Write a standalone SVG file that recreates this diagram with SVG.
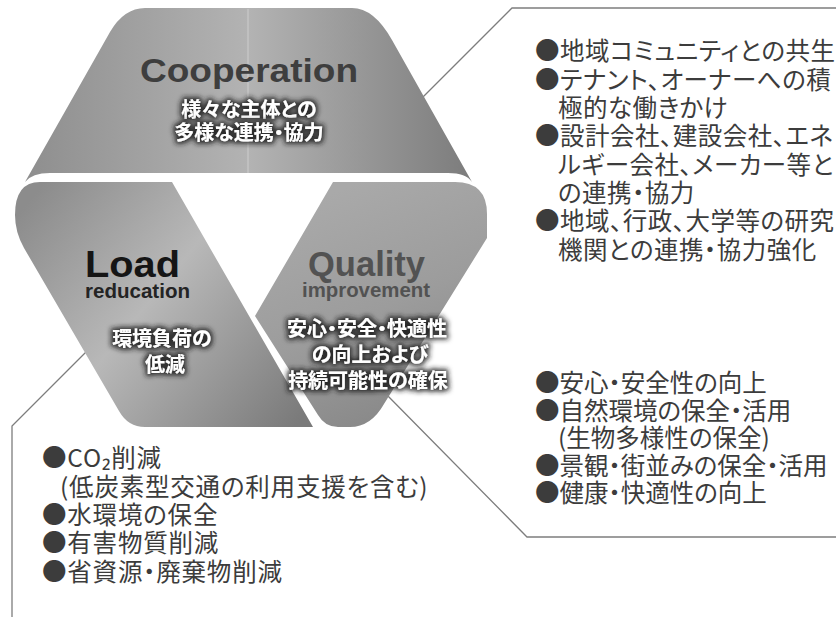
<svg xmlns="http://www.w3.org/2000/svg" width="836" height="617" viewBox="0 0 836 617">
<defs>
<style>
.lbl{font-family:"Liberation Sans",Arial,sans-serif;font-weight:bold;text-anchor:middle}
.glow{font-family:"Noto Sans CJK JP","Noto Sans",sans-serif;font-weight:bold;fill:#fff;text-anchor:middle;font-size:20px;font-feature-settings:"palt";filter:url(#halo)}
.list{font-family:"Noto Sans CJK JP","Noto Sans",sans-serif;font-size:24.5px;fill:#3c3c3c;font-feature-settings:"palt"}
.call{fill:none;stroke:#7d7d7d;stroke-width:1.3}
</style>
<linearGradient id="gTop" x1="25" y1="0" x2="472" y2="0" gradientUnits="userSpaceOnUse">
<stop offset="0" stop-color="#8e8e8e"/><stop offset="0.5" stop-color="#b3b3b3"/><stop offset="1" stop-color="#7c7c7c"/>
</linearGradient>
<linearGradient id="gLoad" x1="30" y1="200" x2="300" y2="420" gradientUnits="userSpaceOnUse">
<stop offset="0" stop-color="#8c8c8c"/><stop offset="0.45" stop-color="#b8b8b8"/><stop offset="1" stop-color="#7a7a7a"/>
</linearGradient>
<linearGradient id="gQual" x1="340" y1="190" x2="440" y2="420" gradientUnits="userSpaceOnUse">
<stop offset="0" stop-color="#a9a9a9"/><stop offset="0.5" stop-color="#9c9c9c"/><stop offset="1" stop-color="#858585"/>
</linearGradient>
<filter id="halo" x="-20%" y="-40%" width="140%" height="180%">
<feMorphology in="SourceAlpha" operator="dilate" radius="1.5" result="d"/>
<feGaussianBlur in="d" stdDeviation="2.5" result="b"/>
<feFlood flood-color="#1e1e1e" flood-opacity="0.9"/>
<feComposite in2="b" operator="in" result="s"/>
<feMerge><feMergeNode in="s"/><feMergeNode in="SourceGraphic"/></feMerge>
</filter>
</defs>
<rect width="836" height="617" fill="#ffffff"/>

<g id="connectors">
<polyline class="call" points="420,100 512,8 836,8"/>
<polyline class="call" points="385,393 527,537 836,537"/>
<polyline class="call" points="90,348 12,426 12,617"/>
</g>

<g id="node-cooperation">
<path d="M25,182 Q32,173 50,173 L448,173 Q466,173 472,182 L392,40 Q374,8 352,8 L145,8 Q124,8 110,32 Z" fill="url(#gTop)"/>
<line x1="248" y1="9" x2="248" y2="173" stroke="#ffffff" stroke-opacity="0.35" stroke-width="1"/>
<text class="lbl" x="249" y="82" font-size="33.5" fill="#3e3e3e" textLength="218" lengthAdjust="spacingAndGlyphs">Cooperation</text>
<text class="glow" x="249" y="117">様々な主体との</text>
<text class="glow" x="249" y="140">多様な連携・協力</text>
</g>

<g id="node-load">
<path d="M40,182 L172,182 L313,427 L145,427 Q128,427 119,411 L24,248 Q15,232 15,215 Q15,182 40,182 Z" fill="url(#gLoad)"/>
<text class="lbl" x="132.5" y="277" font-size="36.5" fill="#151515" textLength="95" lengthAdjust="spacingAndGlyphs">Load</text>
<text class="lbl" x="137.5" y="298" font-size="19.5" fill="#242424" textLength="105" lengthAdjust="spacingAndGlyphs">reducation</text>
<text class="glow" x="162" y="346">環境負荷の</text>
<text class="glow" x="165" y="372">低減</text>
</g>

<g id="node-quality">
<path d="M333,182 L455,182 Q487,182 487,214 L487,238 L384,404 Q371,427 350,427 L338,427 Q325,427 318,415 L255,316 Z" fill="url(#gQual)"/>
<text class="lbl" x="366.5" y="276" font-size="35" fill="#525252" textLength="117" lengthAdjust="spacingAndGlyphs">Quality</text>
<text class="lbl" x="366" y="297" font-size="20" fill="#525252" textLength="128" lengthAdjust="spacingAndGlyphs">improvement</text>
<text class="glow" x="367" y="336">安心・安全・快適性</text>
<text class="glow" x="370" y="362">の向上および</text>
<text class="glow" x="368" y="388">持続可能性の確保</text>
</g>

<g id="list-cooperation" class="list" letter-spacing="0.5">
<text x="535" y="60">●地域コミュニティとの共生</text>
<text x="535" y="88.5">●テナント、オーナーへの積</text>
<text x="558" y="117">極的な働きかけ</text>
<text x="535" y="145">●設計会社、建設会社、エネ</text>
<text x="558" y="173.5">ルギー会社、メーカー等と</text>
<text x="558" y="202">の連携・協力</text>
<text x="535" y="230">●地域、行政、大学等の研究</text>
<text x="558" y="258.5">機関との連携・協力強化</text>
</g>

<g id="list-quality" class="list">
<text x="535" y="392">●安心・安全性の向上</text>
<text x="535" y="419.5">●自然環境の保全・活用</text>
<text x="558" y="447">(生物多様性の保全)</text>
<text x="535" y="474.5">●景観・街並みの保全・活用</text>
<text x="535" y="502">●健康・快適性の向上</text>
</g>

<g id="list-load" class="list" letter-spacing="0.8">
<text x="42" y="467">●CO₂削減</text>
<text x="60" y="495.5">(低炭素型交通の利用支援を含む)</text>
<text x="42" y="524">●水環境の保全</text>
<text x="42" y="552">●有害物質削減</text>
<text x="42" y="580.5">●省資源・廃棄物削減</text>
</g>
</svg>
